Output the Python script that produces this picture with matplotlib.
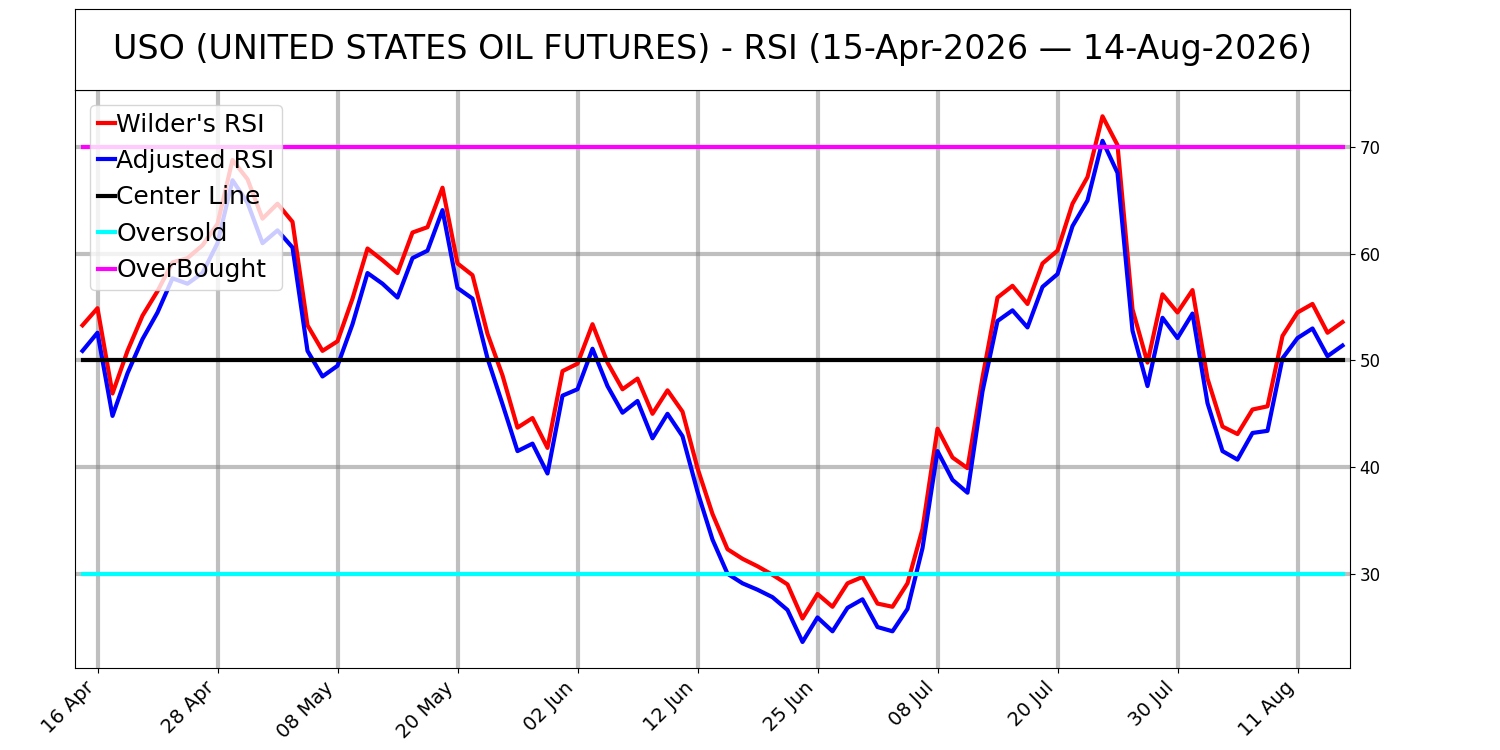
import matplotlib
matplotlib.use("Agg")
import matplotlib.pyplot as plt
import numpy as np
import pandas as pd

# US trading days, 15 Apr 2026 -> 14 Aug 2026
holidays = ["2026-05-25", "2026-06-19", "2026-07-03"]
dates = pd.bdate_range("2026-04-15", "2026-08-14")
dates = dates[~dates.isin(pd.to_datetime(holidays))]

wilder_rsi = [53.3, 54.9, 46.9, 50.9, 54.2, 56.5, 59.2, 59.6, 60.8, 62.8,
              68.8, 67.0, 63.3, 64.7, 63.0, 53.3, 50.9, 51.8, 55.8, 60.5,
              59.4, 58.2, 62.0, 62.5, 66.2, 59.1, 58.0, 52.5, 48.6, 43.7,
              44.6, 41.8, 49.0, 49.7, 53.4, 49.8, 47.3, 48.3, 45.0, 47.2,
              45.2, 39.9, 35.6, 32.3, 31.4, 30.7, 29.9, 29.0, 25.8, 28.1,
              26.9, 29.1, 29.7, 27.2, 26.9, 29.1, 34.2, 43.6, 40.9, 39.9,
              48.4, 55.9, 57.0, 55.3, 59.1, 60.3, 64.7, 67.2, 72.9, 70.2,
              54.8, 49.8, 56.2, 54.5, 56.6, 48.3, 43.8, 43.1, 45.4, 45.7,
              52.3, 54.5, 55.3, 52.6, 53.6]
adjusted_rsi = [50.9, 52.6, 44.8, 48.8, 52.0, 54.5, 57.7, 57.2, 58.2, 61.0,
                66.9, 64.8, 61.0, 62.2, 60.6, 50.9, 48.5, 49.5, 53.4, 58.2,
                57.2, 55.9, 59.6, 60.3, 64.1, 56.8, 55.8, 50.2, 45.9, 41.5,
                42.2, 39.4, 46.7, 47.3, 51.1, 47.6, 45.1, 46.2, 42.7, 45.0,
                42.9, 37.7, 33.2, 30.0, 29.1, 28.5, 27.8, 26.6, 23.6, 25.9,
                24.6, 26.8, 27.6, 25.0, 24.6, 26.7, 32.4, 41.5, 38.8, 37.6,
                47.1, 53.7, 54.7, 53.1, 56.9, 58.1, 62.6, 65.0, 70.6, 67.6,
                52.8, 47.6, 54.0, 52.1, 54.4, 46.0, 41.5, 40.7, 43.2, 43.4,
                50.2, 52.1, 53.0, 50.4, 51.4]
center = 50
oversold = 30
overbought = 70

x = np.arange(len(dates))
tick_idx = x[1::8]
tick_labels = [dates[i].strftime("%d %b") for i in tick_idx]

fig = plt.figure(figsize=(15, 7.5), dpi=100)
ax = fig.add_axes([0.05, 0.109, 0.85, 0.771])
tax = fig.add_axes([0.05, 0.88, 0.85, 0.108])
tax.set_xticks([])
tax.set_yticks([])
tax.text(0.5, 0.5, "USO (UNITED STATES OIL FUTURES) - RSI (15-Apr-2026 \u2014 14-Aug-2026)",
         ha="center", va="center", fontsize=24, transform=tax.transAxes)

lw = 3
ax.plot(x, wilder_rsi, color="red", lw=lw, label="Wilder's RSI")
ax.plot(x, adjusted_rsi, color="blue", lw=lw, label="Adjusted RSI")
ax.plot(x, [center] * len(x), color="black", lw=lw, label="Center Line")
ax.plot(x, [oversold] * len(x), color="cyan", lw=lw, label="Oversold")
ax.plot(x, [overbought] * len(x), color="magenta", lw=lw, label="OverBought")

ax.set_xlim(-0.5, len(x) - 0.5)
ax.set_xticks(tick_idx)
ax.set_xticklabels(tick_labels, rotation=45, ha="right", fontsize=14)
ax.yaxis.tick_right()
ax.tick_params(axis="y", labelsize=12)
ax.set_axisbelow(True)
ax.grid(True, color="gray", alpha=0.5, lw=3)

ax.legend(loc="upper left", fontsize=18, handlelength=0.7, handletextpad=0.05,
          labelspacing=0.5, borderpad=0.3, borderaxespad=0.6)

fig.savefig("out.png")
